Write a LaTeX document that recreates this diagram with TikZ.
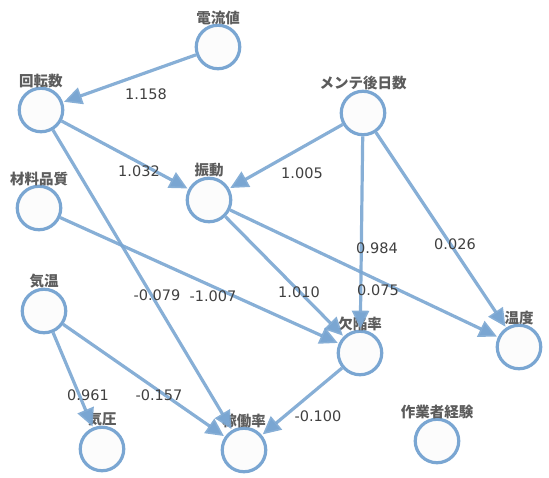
\documentclass[tikz,border=0pt]{standalone}
\usepackage{fontspec}
\setmainfont{DejaVu Sans}
\newfontfamily\jpfont{Noto Sans CJK JP}
\usepackage{tikz}
\usetikzlibrary{arrows.meta,positioning}
\definecolor{cdblue}{RGB}{122,166,210}
\definecolor{cdtext}{RGB}{92,92,92}
\definecolor{cdnum}{RGB}{64,64,64}
\tikzset{
  cdstate/.style={
    circle, draw=cdblue, fill=black!1, line width=3.2pt,
    minimum size=43.5pt, inner sep=0pt
  },
  cdname/.style={font=\jpfont\bfseries\fontsize{14.5}{15}\selectfont,text=cdtext,inner sep=0pt},
  cdedge/.style={-{Triangle[length=18pt,width=17pt]},draw=cdblue,line width=3.2pt,
    draw opacity=0.9,shorten >=1pt},
  cdweight/.style={font=\fontsize{14.5}{15}\selectfont,text=cdnum,inner sep=0pt}
}

\begin{document}
\begin{tikzpicture}[x=1pt,y=1pt]
  \useasboundingbox (0,0) rectangle (549,477);
  % variables
  \node[cdstate] (cur) at (218,430) {};
  \node[cdstate] (rot) at (41,367) {};
  \node[cdstate] (mat) at (39,269) {};
  \node[cdstate] (vib) at (209,277) {};
  \node[cdstate] (mnt) at (363,364) {};
  \node[cdstate] (def) at (360,124) {};
  \node[cdstate] (tmp) at (519,130) {};
  \node[cdstate] (air) at (44,166) {};
  \node[cdstate] (prs) at (102,28) {};
  \node[cdstate] (opr) at (244,27) {};
  \node[cdstate] (exp) at (437,36) {};

  \node[cdname,above=-1pt of cur] (cur-l) {電流値};
  \node[cdname,above=-1pt of rot] (rot-l) {回転数};
  \node[cdname,above=-1pt of mat] (mat-l) {材料品質};
  \node[cdname,above=-1pt of vib] (vib-l) {振動};
  \node[cdname,above=-1pt of mnt] (mnt-l) {メンテ後日数};
  \node[cdname,above=-1pt of def] (def-l) {欠陥率};
  \node[cdname,above=-1pt of tmp] (tmp-l) {温度};
  \node[cdname,above=-1pt of air] (air-l) {気温};
  \node[cdname,above=-1pt of prs] (prs-l) {気圧};
  \node[cdname,above=-1pt of opr] (opr-l) {稼働率};
  \node[cdname,above=-1pt of exp] (exp-l) {作業者経験};

  % causal edges
  \draw[cdedge] (cur) -- (rot);
  \draw[cdedge] (rot) -- (vib);
  \draw[cdedge] (rot) -- (opr);
  \draw[cdedge] (mnt) -- (vib);
  \draw[cdedge] (mnt) -- (def);
  \draw[cdedge] (mnt) -- (tmp);
  \draw[cdedge] (mat) -- (def);
  \draw[cdedge] (vib) -- (def);
  \draw[cdedge] (vib) -- (tmp);
  \draw[cdedge] (air) -- (prs);
  \draw[cdedge] (air) -- (opr);
  \draw[cdedge] (def) -- (opr);

  % weights
  \node[cdweight] (w-cur-rot) at (146,383) {1.158};
  \node[cdweight] (w-rot-vib) at (139,306) {1.032};
  \node[cdweight] (w-mnt-vib) at (302,304) {1.005};
  \node[cdweight] (w-mnt-def) at (377,229) {0.984};
  \node[cdweight] (w-mnt-tmp) at (455,233) {0.026};
  \node[cdweight] (w-vib-def) at (299,185) {1.010};
  \node[cdweight] (w-vib-tmp) at (378,187) {0.075};
  \node[cdweight] (w-rot-opr) at (157,182) {-0.079};
  \node[cdweight] (w-mat-def) at (213,181) {-1.007};
  \node[cdweight] (w-air-prs) at (88,82) {0.961};
  \node[cdweight] (w-air-opr) at (159,82) {-0.157};
  \node[cdweight] (w-def-opr) at (318,61) {-0.100};
\end{tikzpicture}
\end{document}
